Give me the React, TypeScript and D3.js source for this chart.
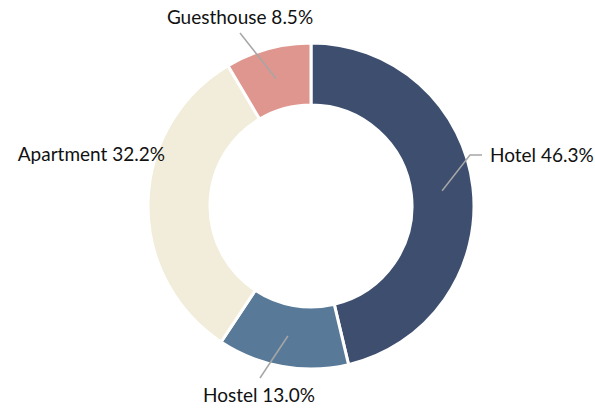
import { useEffect, useRef } from "react"
import * as d3 from "d3"

const categories = ["Hotel", "Hostel", "Apartment", "Guesthouse"]
const shares = [46.3, 13.0, 32.2, 8.5]
const colors = ["#3d4e6f", "#587a98", "#f2edda", "#df968e"]

// label layout: text anchor point and leader end point (px, relative to centre)
const labelLayout = [
  { tx: 179, ty: -44, anchor: "start", lx: 159, ly: -51, elbow: 171, showLine: true },
  { tx: -52, ty: 196, anchor: "middle", lx: -51, ly: 172, elbow: null, showLine: true },
  { tx: -146, ty: -45, anchor: "end", lx: 0, ly: 0, elbow: null, showLine: false },
  { tx: -71, ty: -182, anchor: "middle", lx: -71, ly: -173, elbow: null, showLine: true },
]

export default function App() {
  const svgRef = useRef<SVGSVGElement>(null)

  useEffect(() => {
    if (!svgRef.current) return
    const svg = d3.select(svgRef.current)
    svg.selectAll("*").remove()

    const cx = 311
    const cy = 206
    const outerR = 163
    const innerR = 101

    const data = categories.map((c, i) => ({ name: c, value: shares[i], color: colors[i], i }))

    const pie = d3
      .pie<(typeof data)[number]>()
      .sort(null)
      .value((d) => d.value)

    const arc = d3.arc<d3.PieArcDatum<(typeof data)[number]>>().innerRadius(innerR).outerRadius(outerR)

    const g = svg.append("g").attr("transform", `translate(${cx}, ${cy})`)

    const arcs = pie(data)

    g.selectAll("path.slice")
      .data(arcs)
      .enter()
      .append("path")
      .attr("class", "slice")
      .attr("d", arc)
      .attr("fill", (d) => d.data.color)
      .attr("stroke", "#fff")
      .attr("stroke-width", 3)

    // leader lines
    arcs.forEach((d) => {
      const lay = labelLayout[d.data.i]
      if (!lay.showLine) return
      const [sx, sy] = arc.centroid(d)
      const pts: [number, number][] = [
        [sx, sy],
        [lay.lx, lay.ly],
      ]
      if (lay.elbow !== null) pts.push([lay.elbow, lay.ly])
      g.append("path")
        .attr("d", d3.line()(pts))
        .attr("fill", "none")
        .attr("stroke", "#a6a6a6")
        .attr("stroke-width", 1.5)
    })

    // labels
    g.selectAll("text.label")
      .data(arcs)
      .enter()
      .append("text")
      .attr("class", "label")
      .attr("x", (d) => labelLayout[d.data.i].tx)
      .attr("y", (d) => labelLayout[d.data.i].ty)
      .attr("text-anchor", (d) => labelLayout[d.data.i].anchor)
      .attr("font-family", "Lato, 'Open Sans', sans-serif")
      .attr("font-size", "19px")
      .attr("fill", "#111")
      .text((d) => `${d.data.name} ${d.data.value.toFixed(1)}%`)
  }, [])

  return (
    <svg
      ref={svgRef}
      width={595}
      height={412}
      style={{ position: "absolute", left: 0, top: 0, background: "#fff" }}
    />
  )
}
